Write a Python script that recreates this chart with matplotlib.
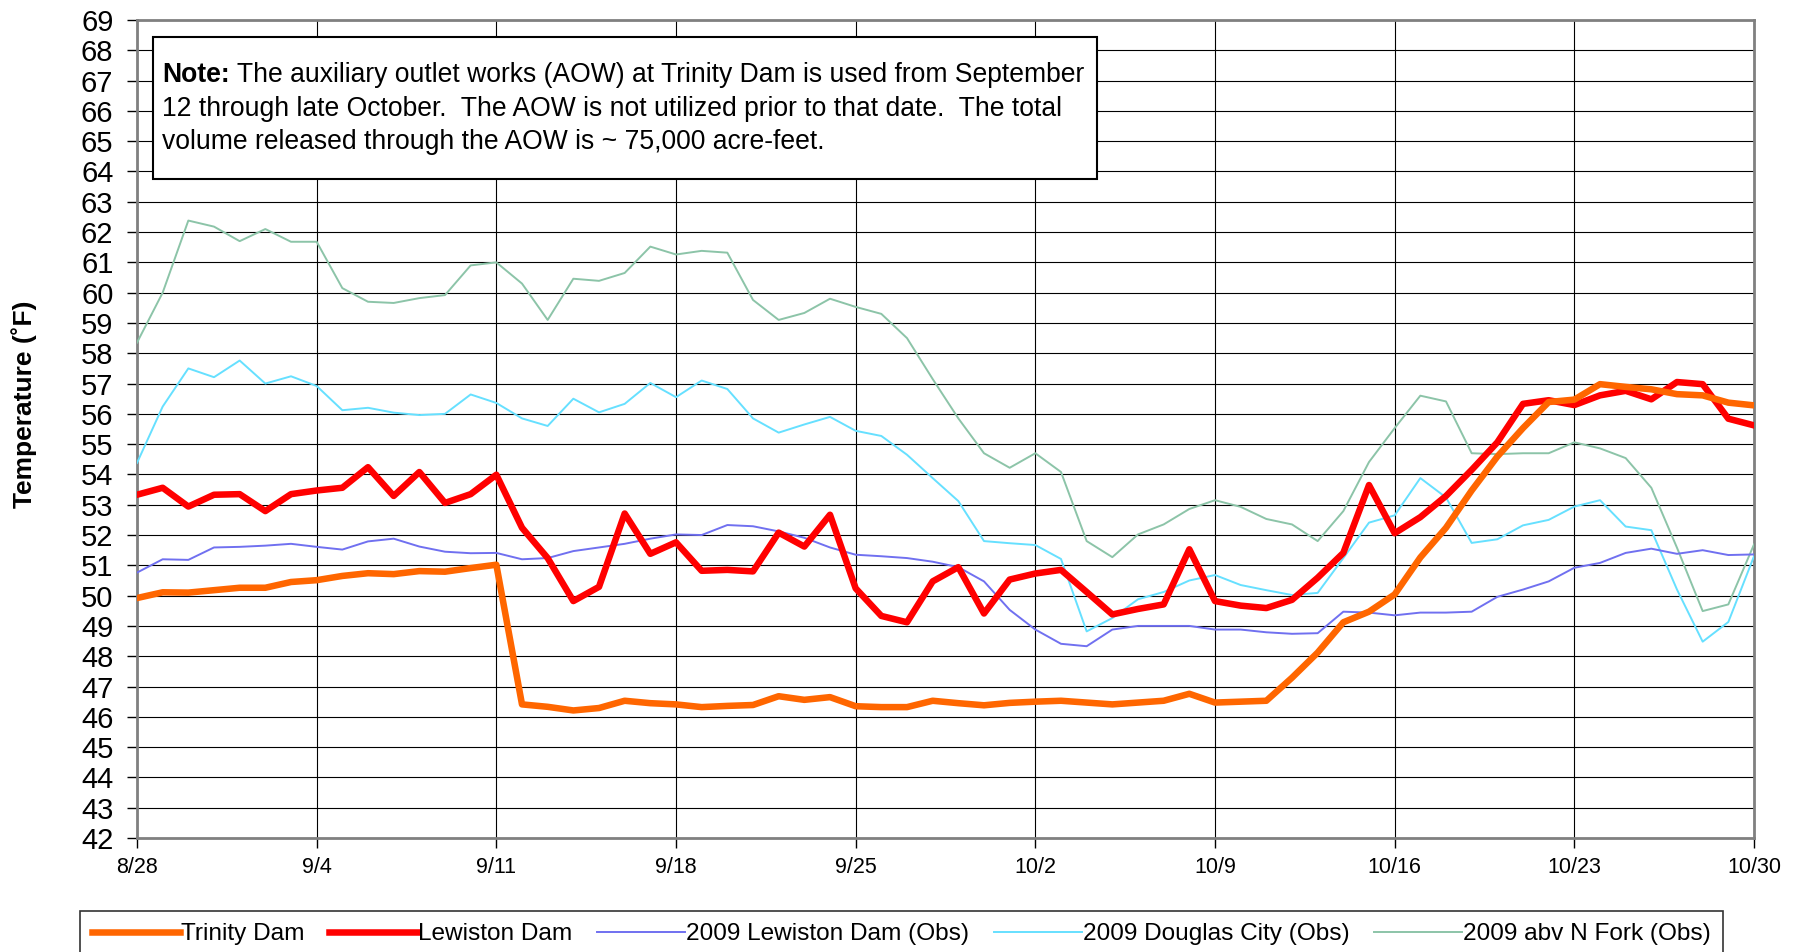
import matplotlib
matplotlib.use("Agg")
import matplotlib.pyplot as plt
from matplotlib.patches import Rectangle
import pandas as pd

plt.rcParams['font.family'] = ['Liberation Sans', 'DejaVu Sans']

# daily values, 8/28 through 10/30
dates = pd.date_range("2009-08-28", "2009-10-30", freq="D")

trinity = [49.92, 50.11, 50.10, 50.18, 50.26, 50.26, 50.45, 50.51, 50.65, 50.74, 50.71, 50.81, 50.79, 50.91, 51.02,
           46.41, 46.33, 46.21, 46.29, 46.53, 46.45, 46.41, 46.32, 46.36, 46.39, 46.68, 46.56, 46.65, 46.35, 46.32,
           46.32, 46.53, 46.45, 46.38, 46.46, 46.50, 46.53, 46.47, 46.41, 46.47, 46.53, 46.76, 46.47, 46.50, 46.53,
           47.29, 48.12, 49.12, 49.47, 50.04, 51.26, 52.24, 53.47, 54.59, 55.53, 56.39, 56.47, 56.98, 56.89, 56.81,
           56.65, 56.61, 56.37, 56.28]
lewiston = [53.33, 53.56, 52.94, 53.33, 53.35, 52.79, 53.35, 53.47, 53.56, 54.24, 53.29, 54.08, 53.06, 53.35, 53.99,
            52.24, 51.24, 49.82, 50.29, 52.71, 51.38, 51.76, 50.82, 50.85, 50.80, 52.08, 51.62, 52.67, 50.24, 49.33,
            49.12, 50.47, 50.94, 49.41, 50.53, 50.73, 50.85, 50.12, 49.38, 49.56, 49.71, 51.53, 49.82, 49.67, 49.59,
            49.86, 50.59, 51.41, 53.65, 52.06, 52.59, 53.29, 54.15, 55.06, 56.33, 56.45, 56.29, 56.61, 56.76, 56.48,
            57.05, 56.98, 55.84, 55.62]
lewiston_obs = [50.76, 51.20, 51.18, 51.59, 51.61, 51.65, 51.71, 51.61, 51.52, 51.79, 51.88, 51.62, 51.45, 51.40, 51.41,
                51.20, 51.24, 51.47, 51.59, 51.71, 51.88, 52.02, 52.00, 52.33, 52.29, 52.12, 51.91, 51.59, 51.35, 51.30,
                51.24, 51.12, 50.94, 50.47, 49.53, 48.88, 48.41, 48.33, 48.88, 49.00, 49.00, 49.00, 48.88, 48.88, 48.79,
                48.74, 48.76, 49.47, 49.44, 49.35, 49.44, 49.44, 49.47, 49.96, 50.20, 50.47, 50.92, 51.08, 51.41, 51.55,
                51.38, 51.50, 51.34, 51.36]
douglas_obs = [54.38, 56.24, 57.50, 57.21, 57.76, 57.00, 57.24, 56.92, 56.12, 56.20, 56.04, 55.96, 56.00, 56.64, 56.36,
               55.85, 55.60, 56.50, 56.05, 56.33, 57.02, 56.55, 57.10, 56.82, 55.85, 55.38, 55.65, 55.90, 55.44, 55.27,
               54.65, 53.88, 53.12, 51.80, 51.73, 51.67, 51.21, 48.82, 49.26, 49.88, 50.12, 50.50, 50.68, 50.35, 50.18,
               50.02, 50.09, 51.24, 52.41, 52.65, 53.88, 53.24, 51.74, 51.86, 52.32, 52.50, 52.94, 53.15, 52.28, 52.16,
               50.20, 48.48, 49.13, 51.30]
nfork_obs = [58.35, 60.00, 62.38, 62.18, 61.70, 62.10, 61.68, 61.68, 60.15, 59.70, 59.66, 59.82, 59.92, 60.90, 61.00,
             60.30, 59.10, 60.46, 60.39, 60.65, 61.52, 61.26, 61.38, 61.32, 59.76, 59.10, 59.33, 59.80, 59.53, 59.30,
             58.50, 57.15, 55.85, 54.70, 54.22, 54.70, 54.08, 51.80, 51.27, 52.02, 52.35, 52.86, 53.15, 52.93, 52.53,
             52.35, 51.80, 52.79, 54.41, 55.53, 56.60, 56.41, 54.70, 54.67, 54.70, 54.70, 55.06, 54.86, 54.54, 53.56,
             51.58, 49.49, 49.71, 51.69]

tick_labels = ["8/28", "9/4", "9/11", "9/18", "9/25", "10/2", "10/9", "10/16", "10/23", "10/30"]
note_head = "Note:"
note_lines = [" The auxiliary outlet works (AOW) at Trinity Dam is used from September",
              "12 through late October.  The AOW is not utilized prior to that date.  The total",
              "volume released through the AOW is ~ 75,000 acre-feet."]

W, H = 1803, 952
fig = plt.figure(figsize=(W / 100, H / 100), dpi=100)
ax = fig.add_axes([137 / W, 1 - 838 / H, (1754 - 137) / W, (838 - 20) / H])

ax.plot(dates, nfork_obs, color="#8cc4a8", lw=1.4, label="2009 abv N Fork (Obs)", zorder=3)
ax.plot(dates, douglas_obs, color="#66e0ff", lw=1.4, label="2009 Douglas City (Obs)", zorder=3)
ax.plot(dates, lewiston_obs, color="#7070f0", lw=1.4, label="2009 Lewiston Dam (Obs)", zorder=3)
ax.plot(dates, lewiston, color="#ff0000", lw=4.7, label="Lewiston Dam", zorder=4)
ax.plot(dates, trinity, color="#ff6600", lw=4.7, label="Trinity Dam", zorder=5)

ax.set_ylim(42, 69)
ax.set_yticks(range(42, 70))
ax.set_xlim(dates[0], dates[-1])
ax.set_xticks(dates[::7])
ax.set_xticklabels(tick_labels, fontsize=15.5)
ax.tick_params(axis="y", labelsize=21, length=7, width=1, pad=10)
ax.tick_params(axis="x", length=7, width=1, pad=7)
ax.grid(True, color="black", lw=0.8)
ax.set_axisbelow(True)
for s in ax.spines.values():
    s.set_color("#808080")
    s.set_linewidth(2)
ax.set_ylabel("Temperature (˚F)", fontsize=19, fontweight="bold")
ax.yaxis.set_label_coords((37 - 137) / (1754 - 137), 0.53)

# note box
fig.patches.append(Rectangle((153 / W, 1 - 179 / H), (1097 - 153) / W, (179 - 37) / H,
                             transform=fig.transFigure, facecolor="white", edgecolor="black",
                             lw=1.5, zorder=10))
line_y = [75, 108.5, 142]
head = fig.text(162 / W, 1 - line_y[0] / H, note_head, fontsize=19.1, fontweight="bold",
                va="center", ha="left", zorder=11)
fig.canvas.draw()
head_right = head.get_window_extent().x1 / fig.bbox.width
fig.text(head_right, 1 - line_y[0] / H, note_lines[0], fontsize=19.1, va="center", ha="left", zorder=11)
for ln, yy in zip(note_lines[1:], line_y[1:]):
    fig.text(162 / W, 1 - yy / H, ln, fontsize=19.1, va="center", ha="left", zorder=11)

handles, labels = ax.get_legend_handles_labels()
order = [4, 3, 2, 1, 0]
leg = fig.legend([handles[i] for i in order], [labels[i] for i in order], loc="upper center",
                 bbox_to_anchor=(0.5, 1 - 911 / H), ncol=5, fontsize=17.6, frameon=True,
                 fancybox=False, edgecolor="black", handlelength=3.6, handletextpad=0.05,
                 columnspacing=1.0, borderpad=0.5, borderaxespad=0)
leg.get_frame().set_linewidth(1.2)

fig.savefig("out.png", dpi=100)
